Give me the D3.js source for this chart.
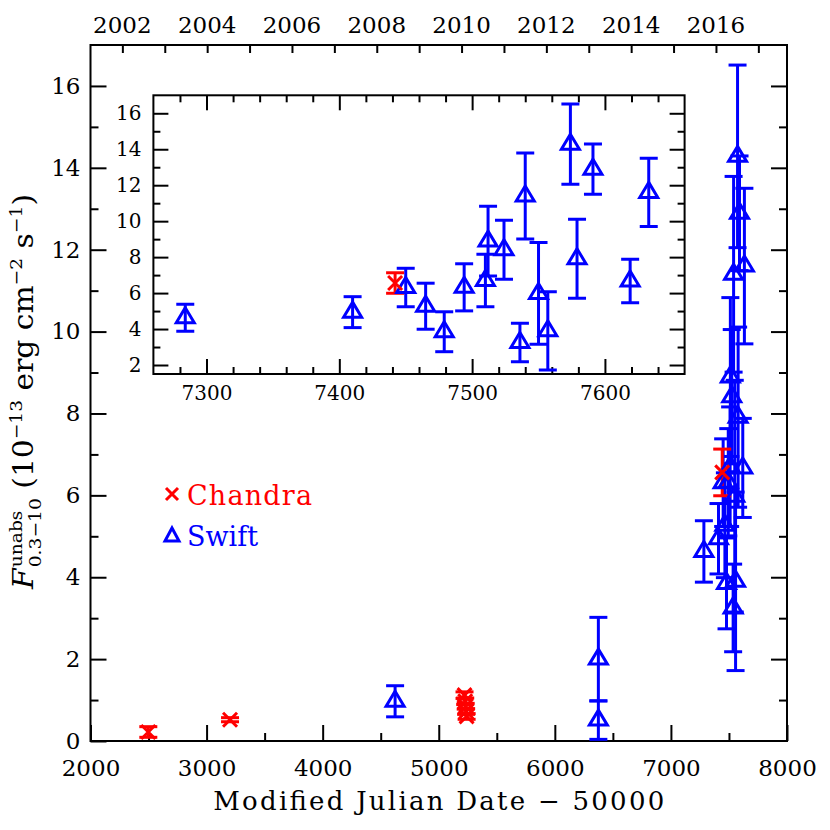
<!DOCTYPE html>
<html>
<head>
<meta charset="utf-8">
<script src="https://cdn.jsdelivr.net/npm/d3@7"></script>
<style>
  html, body { margin: 0; padding: 0; background: #fff; }
  svg { display: block; font-family: "DejaVu Serif", serif; }
</style>
</head>
<body>
<svg id="chart" width="830" height="830"></svg>
<script>
// ── Data (MJD - 50000, unabsorbed flux in 1e-13 cgs) ─────────
const chandraMJD  = [2498, 3202, 5222, 5228, 5232, 5236, 5240, 7442];
const chandraFlux = [0.22, 0.52, 1.12, 0.97, 0.85, 0.72, 0.60, 6.56];
const chandraErr  = [0.13, 0.05, 0.08, 0.08, 0.07, 0.07, 0.07, 0.57];

const swiftMJD  = [4624, 6375, 6375, 7284, 7410, 7450, 7465, 7479, 7494, 7510, 7512,
                   7524, 7536, 7540, 7550, 7557, 7574, 7579, 7591, 7619, 7633];
const swiftFlux = [0.97, 2.00, 0.51, 4.63, 4.94, 6.31, 5.27, 3.85, 6.32, 6.70, 8.89,
                   8.41, 3.25, 11.40, 5.98, 3.90, 14.28, 7.91, 12.89, 6.67, 11.60];
const swiftErr  = [0.38, 1.02, 0.47, 0.75, 0.86, 1.07, 1.28, 1.11, 1.31, 1.46, 1.94,
                   1.64, 1.07, 2.39, 2.83, 2.18, 2.23, 2.20, 1.40, 1.21, 1.90];

const yearTicks  = d3.range(2002, 2018);
const yearLabels = [2002, 2004, 2006, 2008, 2010, 2012, 2014, 2016];

const RED = '#ff0000', BLUE = '#0000ff';

const chandra = chandraMJD.map((m, i) => ({ x: m, y: chandraFlux[i], e: chandraErr[i] }));
const swift   = swiftMJD.map((m, i) => ({ x: m, y: swiftFlux[i], e: swiftErr[i] }));

const svg = d3.select('#chart');

// year -> MJD - 50000
const yearToMJD = y => 51544 + (y - 2000) * 365.25 - 50000;

// ── Generic panel drawing ─────────────────────────────
function drawPoints(g, x, y) {
  // error bars
  const bars = (data, col) => {
    const eb = g.append('g').attr('stroke', col).attr('stroke-width', 3).attr('fill', 'none');
    data.forEach(d => {
      const px = x(d.x), y1 = y(d.y + d.e), y0 = y(d.y - d.e);
      eb.append('line').attr('x1', px).attr('x2', px).attr('y1', y1).attr('y2', y0);
      eb.append('line').attr('x1', px - 9).attr('x2', px + 9).attr('y1', y1).attr('y2', y1);
      eb.append('line').attr('x1', px - 9).attr('x2', px + 9).attr('y1', y0).attr('y2', y0);
    });
  };
  bars(swift, BLUE);
  bars(chandra, RED);

  g.append('g').selectAll('path').data(swift).join('path')
    .attr('d', d => {
      const px = x(d.x), py = y(d.y);
      return `M${px},${py - 10}L${px + 9},${py + 5}L${px - 9},${py + 5}Z`;
    })
    .attr('fill', 'none').attr('stroke', BLUE).attr('stroke-width', 3)
    .attr('stroke-linejoin', 'miter');

  g.append('g').selectAll('path').data(chandra).join('path')
    .attr('d', d => {
      const px = x(d.x), py = y(d.y), s = 7;
      return `M${px - s},${py - s}L${px + s},${py + s}M${px - s},${py + s}L${px + s},${py - s}`;
    })
    .attr('fill', 'none').attr('stroke', RED).attr('stroke-width', 3);
}

function tickAxis(g, axis, tx, ty, fontSize) {
  const a = g.append('g').attr('transform', `translate(${tx},${ty})`).call(axis);
  a.select('.domain').remove();
  a.selectAll('line').attr('stroke', '#000').attr('stroke-width', 2);
  a.selectAll('text').attr('fill', '#000').attr('font-size', fontSize)
    .attr('font-family', '"DejaVu Serif", serif');
  return a;
}

// ── Main panel ────────────────────────────────────────
const X0 = 90.5, X1 = 787, Y0 = 741, Y1 = 45;
const x = d3.scaleLinear().domain([2000, 8000]).range([X0, X1]);
const y = d3.scaleLinear().domain([0, 17]).range([Y0, Y1]);

const main = svg.append('g');

tickAxis(main, d3.axisBottom(x).tickValues(d3.range(2000, 8001, 1000)).tickSize(-16).tickPadding(19).tickFormat(d3.format('d')), 0, Y0, 23);
tickAxis(main, d3.axisBottom(x).tickValues(d3.range(2500, 8000, 1000)).tickSize(-8).tickFormat(''), 0, Y0, 23);
tickAxis(main, d3.axisLeft(y).tickValues(d3.range(0, 17, 2)).tickSize(-16).tickPadding(10), X0, 0, 23);
tickAxis(main, d3.axisLeft(y).tickValues(d3.range(1, 17, 2)).tickSize(-8).tickFormat(''), X0, 0, 23);
tickAxis(main, d3.axisRight(y).tickValues(d3.range(2, 17, 2)).tickSize(-16).tickFormat(''), X1, 0, 23);
tickAxis(main, d3.axisRight(y).tickValues(d3.range(1, 17, 2)).tickSize(-8).tickFormat(''), X1, 0, 23);
tickAxis(main, d3.axisTop(x).tickValues(yearTicks.map(yearToMJD)).tickSize(-8).tickFormat(''), 0, Y1, 23);

// year labels
main.append('g').selectAll('text').data(yearLabels).join('text')
  .attr('x', d => x(yearToMJD(d)))
  .attr('y', Y1 - 12)
  .attr('text-anchor', 'middle')
  .attr('font-size', 23)
  .text(d => d);

main.append('rect')
  .attr('x', X0).attr('y', Y1).attr('width', X1 - X0).attr('height', Y0 - Y1)
  .attr('fill', 'none').attr('stroke', '#000').attr('stroke-width', 2);

drawPoints(main, x, y);

// x title
main.append('text')
  .attr('x', (X0 + X1) / 2).attr('y', 810)
  .attr('text-anchor', 'middle')
  .attr('font-size', 26)
  .attr('textLength', 451).attr('lengthAdjust', 'spacing')
  .text('Modified Julian Date \u2212 50000');

// y title, built piece by piece
(function () {
  const yt = main.append('g');
  const inner = yt.append('g');
  const pieces = [
    { t: 'F', fs: 27, dy: 0, it: true },
    { stack: [{ t: 'unabs', fs: 17, dy: -11 }, { t: '0.3\u221210', fs: 17, dy: 8 }] },
    { t: ' (10', fs: 27, dy: 0 },
    { t: '\u221213', fs: 17, dy: -11 },
    { t: ' erg cm', fs: 27, dy: 0 },
    { t: '\u22122', fs: 17, dy: -11 },
    { t: ' s', fs: 27, dy: 0 },
    { t: '\u22121', fs: 17, dy: -11 },
    { t: ')', fs: 27, dy: 0 },
  ];
  let cx = 0;
  const put = p => {
    const t = inner.append('text').attr('x', cx).attr('y', p.dy)
      .attr('font-size', p.fs)
      .style('white-space', 'pre')
      .attr('font-style', p.it ? 'italic' : null).text(p.t);
    return t.node().getComputedTextLength();
  };
  pieces.forEach(p => {
    if (p.stack) {
      cx += d3.max(p.stack.map(put));
    } else {
      cx += put(p) + (p.it ? 1 : 0);
    }
  });
  // stretch to the reference length
  const k = 395 / cx;
  inner.attr('transform', `translate(${-197},0) scale(${k},1)`);
  yt.attr('transform', 'translate(33,392) rotate(-90)');
})();

// legend
const leg = main.append('g');
leg.append('path')
  .attr('d', 'M166,488L178,500M166,500L178,488')
  .attr('stroke', RED).attr('stroke-width', 3).attr('fill', 'none');
leg.append('text').attr('x', 187).attr('y', 505).attr('font-size', 27)
  .attr('textLength', 125).attr('lengthAdjust', 'spacing')
  .attr('fill', RED).text('Chandra');
leg.append('path')
  .attr('d', 'M172,528L179,541L165,541Z')
  .attr('stroke', BLUE).attr('stroke-width', 3).attr('fill', 'none');
leg.append('text').attr('x', 187).attr('y', 546).attr('font-size', 27)
  .attr('textLength', 71).attr('lengthAdjust', 'spacing')
  .attr('fill', BLUE).text('Swift');

// ── Inset panel ───────────────────────────────────────
const IX0 = 153.4, IX1 = 684.6, IY0 = 374, IY1 = 95.3;
const ix = d3.scaleLinear().domain([7260, 7660]).range([IX0, IX1]);
const iy = d3.scaleLinear().domain([1.5, 17]).range([IY0, IY1]);

const inset = svg.append('g');
inset.append('rect')
  .attr('x', IX0).attr('y', IY1).attr('width', IX1 - IX0).attr('height', IY0 - IY1)
  .attr('fill', '#fff');

inset.append('clipPath').attr('id', 'inset-clip').append('rect')
  .attr('x', IX0).attr('y', IY1).attr('width', IX1 - IX0).attr('height', IY0 - IY1);

const xMaj = d3.range(7300, 7601, 100);
const xMin = d3.range(7280, 7660, 20).filter(v => v % 100 !== 0);
const yMaj = d3.range(2, 17, 2);
const yMin = d3.range(3, 17, 2);

tickAxis(inset, d3.axisBottom(ix).tickValues(xMaj).tickSize(-15).tickPadding(12).tickFormat(d3.format('d')), 0, IY0, 20);
tickAxis(inset, d3.axisBottom(ix).tickValues(xMin).tickSize(-7).tickFormat(''), 0, IY0, 20);
tickAxis(inset, d3.axisTop(ix).tickValues(xMaj).tickSize(-15).tickFormat(''), 0, IY1, 20);
tickAxis(inset, d3.axisTop(ix).tickValues(xMin).tickSize(-7).tickFormat(''), 0, IY1, 20);
tickAxis(inset, d3.axisLeft(iy).tickValues(yMaj).tickSize(-15).tickPadding(12), IX0, 0, 20);
tickAxis(inset, d3.axisLeft(iy).tickValues(yMin).tickSize(-7).tickFormat(''), IX0, 0, 20);
tickAxis(inset, d3.axisRight(iy).tickValues(yMaj).tickSize(-15).tickFormat(''), IX1, 0, 20);
tickAxis(inset, d3.axisRight(iy).tickValues(yMin).tickSize(-7).tickFormat(''), IX1, 0, 20);

const ipts = inset.append('g').attr('clip-path', 'url(#inset-clip)');
drawPoints(ipts, ix, iy);

inset.append('rect')
  .attr('x', IX0).attr('y', IY1).attr('width', IX1 - IX0).attr('height', IY0 - IY1)
  .attr('fill', 'none').attr('stroke', '#000').attr('stroke-width', 2);
</script>
</body>
</html>
